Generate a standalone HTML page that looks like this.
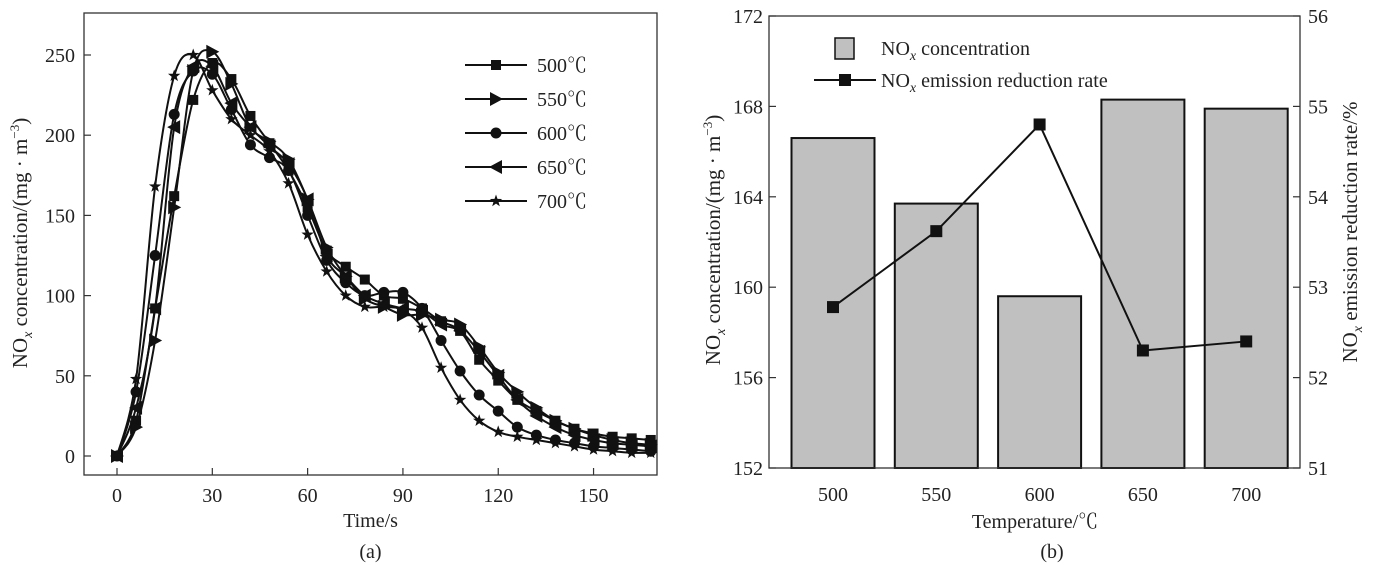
<!DOCTYPE html>
<html><head><meta charset="utf-8"><style>
html,body{margin:0;padding:0;background:#fff;}
svg{display:block;font-family:"Liberation Serif","Noto Serif CJK SC",serif;}
</style></head><body>
<svg id="fig" width="1379" height="565" viewBox="0 0 1379 565" xmlns="http://www.w3.org/2000/svg">
<g id="chartA"></g>
<g id="chartB"></g>
</svg>
<script>
// ---- Chart (a) data ----
const timesA = [0,6,12,18,24,30,36,42,48,54,60,66,72,78,84,90,96,102,108,114,120,126,132,138,144,150,156,162,168];
const seriesNames = ["500℃","550℃","600℃","650℃","700℃"];
const seriesMarkers = ["square","tri-right","circle","tri-left","star"];
const s500 = [0,22,92,162,222,245,235,212,195,178,155,128,118,110,100,98,92,84,78,60,47,35,28,22,17,14,12,11,10];
const s550 = [0,18,72,155,240,252,232,205,196,185,160,130,112,98,93,88,88,85,82,68,52,40,30,22,17,13,10,8,7];
const s600 = [0,40,125,213,240,238,216,194,186,178,150,122,108,100,102,102,92,72,53,38,28,18,13,10,8,6,5,4,3];
const s650 = [0,30,92,205,243,243,220,205,193,182,160,125,112,100,95,92,90,82,78,65,50,35,25,18,13,10,8,7,6];
const s700 = [0,48,168,237,250,228,210,200,190,170,138,115,100,93,93,91,80,55,35,22,15,12,10,8,6,4,3,2,2];
const yTicksA = [0,50,100,150,200,250];
const xTicksA = [0,30,60,90,120,150];
// ---- Chart (b) data ----
const categoriesB = ["500","550","600","650","700"];
const concB = [166.6,163.7,159.6,168.3,167.9];
const rateB = [52.78,53.62,54.80,52.30,52.40];
const yTicksBL = [152,156,160,164,168,172];
const yTicksBR = [51,52,53,54,55,56];

const NS="http://www.w3.org/2000/svg";
const FS=20;
function el(parent,tag,attrs,text){const e=document.createElementNS(NS,tag);for(const k in attrs)e.setAttribute(k,attrs[k]);if(text!==undefined)e.textContent=text;parent.appendChild(e);return e;}

// ===== Chart A =====
const A=document.getElementById('chartA');
const aL=84,aR=657,aT=13,aB=475;
const xA=t=>117+t*3.177;
const yA=v=>456-v*1.604;
function marker(g,type,x,y){
  let m;
  if(type==="square") m=el(g,'rect',{x:x-5,y:y-5,width:10,height:10,fill:'#111'});
  else if(type==="circle") m=el(g,'circle',{cx:x,cy:y,r:5.5,fill:'#111'});
  else if(type==="tri-right") m=el(g,'polygon',{points:`${x-6},${y-7} ${x+7},${y} ${x-6},${y+7}`,fill:'#111'});
  else if(type==="tri-left") m=el(g,'polygon',{points:`${x+6},${y-7} ${x-7},${y} ${x+6},${y+7}`,fill:'#111'});
  else {let p=[];for(let i=0;i<10;i++){const r=i%2?2.6:6.5;const a=-Math.PI/2+i*Math.PI/5;p.push((x+r*Math.cos(a)).toFixed(1)+','+(y+r*Math.sin(a)).toFixed(1));}m=el(g,'polygon',{points:p.join(' '),fill:'#111'});}
  return m;
}
function smoothPath(pts){
  let d=`M${pts[0][0]},${pts[0][1]}`;
  for(let i=0;i<pts.length-1;i++){
    const p0=pts[i-1]||pts[i],p1=pts[i],p2=pts[i+1],p3=pts[i+2]||p2;
    const c1=[p1[0]+(p2[0]-p0[0])/6,p1[1]+(p2[1]-p0[1])/6];
    const c2=[p2[0]-(p3[0]-p1[0])/6,p2[1]-(p3[1]-p1[1])/6];
    d+=` C${c1[0].toFixed(1)},${c1[1].toFixed(1)} ${c2[0].toFixed(1)},${c2[1].toFixed(1)} ${p2[0].toFixed(1)},${p2[1].toFixed(1)}`;
  }
  return d;
}
const frameA=el(A,'rect',{x:aL,y:aT,width:aR-aL,height:aB-aT,fill:'none',stroke:'#333','stroke-width':1.3});


yTicksA.forEach(v=>{
  el(A,'line',{x1:aL,x2:aL+7,y1:yA(v),y2:yA(v),stroke:'#333','stroke-width':1.2});
  const t=el(A,'text',{x:aL-9,y:yA(v)+7,'text-anchor':'end','font-size':FS,fill:'#222'},v);
  
  
});
xTicksA.forEach(v=>{
  el(A,'line',{x1:xA(v),x2:xA(v),y1:aB,y2:aB-7,stroke:'#333','stroke-width':1.2});
  const t=el(A,'text',{x:xA(v),y:aB+27,'text-anchor':'middle','font-size':FS,fill:'#222'},v);
  
  
});
const xtA=el(A,'text',{x:(aL+aR)/2,y:527,'text-anchor':'middle','font-size':FS,fill:'#222'},'Time/s');


const capA=el(A,'text',{x:(aL+aR)/2,y:558,'text-anchor':'middle','font-size':FS,fill:'#222'},'(a)');


const ytA=el(A,'text',{transform:'translate(27,243) rotate(-90)','text-anchor':'middle','font-size':21,fill:'#222'});


ytA.innerHTML='NO<tspan font-size="14" font-style="italic" dy="5">x</tspan><tspan dy="-5"> concentration/(mg · m</tspan><tspan font-size="13" dy="-8">−3</tspan><tspan dy="8">)</tspan>';
const allSeries=[s500,s550,s600,s650,s700];
allSeries.forEach((s,i)=>{
  const g=el(A,'g',{});
  
  
  const pts=s.map((v,j)=>[xA(timesA[j]),yA(v)]);
  const p=el(g,'path',{d:smoothPath(pts),fill:'none',stroke:'#111','stroke-width':2});
  
  
  pts.forEach(q=>{const m=marker(g,seriesMarkers[i],q[0],q[1]);
    
    });
});
// legend A
seriesNames.forEach((n,i)=>{
  const y=65+i*34;
  const g=el(A,'g',{});
  
  
  el(g,'line',{x1:465,x2:527,y1:y,y2:y,stroke:'#111','stroke-width':2});
  marker(g,seriesMarkers[i],496,y);
  el(g,'text',{x:537,y:y+7,'font-size':FS,fill:'#222'},n);
});

// ===== Chart B =====
const B=document.getElementById('chartB');
const bL=769,bR=1300,bT=16,bB=468;
const xB=i=>833+i*103.3;
const yBL=v=>bB-(v-152)*(bB-bT)/20;
const yBR=v=>bB-(v-51)*(bB-bT)/5;
concB.forEach((v,i)=>{
  const r=el(B,'rect',{x:xB(i)-41.5,y:yBL(v),width:83,height:bB-yBL(v),fill:'#c0c0c0',stroke:'#111','stroke-width':2});
  
  
});
const frameB=el(B,'rect',{x:bL,y:bT,width:bR-bL,height:bB-bT,fill:'none',stroke:'#333','stroke-width':1.3});


yTicksBL.forEach(v=>{
  el(B,'line',{x1:bL,x2:bL+7,y1:yBL(v),y2:yBL(v),stroke:'#333','stroke-width':1.2});
  const t=el(B,'text',{x:bL-6,y:yBL(v)+7,'text-anchor':'end','font-size':FS,fill:'#222'},v);
  
  
});
yTicksBR.forEach(v=>{
  el(B,'line',{x1:bR,x2:bR-7,y1:yBR(v),y2:yBR(v),stroke:'#333','stroke-width':1.2});
  const t=el(B,'text',{x:bR+8,y:yBR(v)+7,'font-size':FS,fill:'#222'},v);
  
  
});
categoriesB.forEach((c,i)=>{
  const t=el(B,'text',{x:xB(i),y:501,'text-anchor':'middle','font-size':FS,fill:'#222'},c);
  
  
});
const xtB=el(B,'text',{x:1035,y:528,'text-anchor':'middle','font-size':FS,fill:'#222'},'Temperature/℃');


const capB=el(B,'text',{x:1052,y:558,'text-anchor':'middle','font-size':FS,fill:'#222'},'(b)');


const ytBL=el(B,'text',{transform:'translate(720,240) rotate(-90)','text-anchor':'middle','font-size':21,fill:'#222'});


ytBL.innerHTML='NO<tspan font-size="14" font-style="italic" dy="5">x</tspan><tspan dy="-5"> concentration/(mg · m</tspan><tspan font-size="13" dy="-8">−3</tspan><tspan dy="8">)</tspan>';
const ytBR=el(B,'text',{transform:'translate(1357,232) rotate(-90)','text-anchor':'middle','font-size':21,fill:'#222'});


ytBR.innerHTML='NO<tspan font-size="14" font-style="italic" dy="5">x</tspan><tspan dy="-5"> emission reduction rate/%</tspan>';
const ptsB=rateB.map((v,i)=>[xB(i),yBR(v)]);
const lineB=el(B,'polyline',{points:ptsB.map(p=>p.join(',')).join(' '),fill:'none',stroke:'#111','stroke-width':2});


ptsB.forEach((p,i)=>{
  const m=el(B,'rect',{x:p[0]-6,y:p[1]-6,width:12,height:12,fill:'#111'});
  
  
});
// legend B
const lg1=el(B,'g',{});


el(lg1,'rect',{x:835,y:38,width:19,height:21,fill:'#c0c0c0',stroke:'#111','stroke-width':1.5});
const l1=el(lg1,'text',{x:881,y:55,'font-size':FS,fill:'#222'});
l1.innerHTML='NO<tspan font-size="14" font-style="italic" dy="5">x</tspan><tspan dy="-5"> concentration</tspan>';
const lg2=el(B,'g',{});


el(lg2,'line',{x1:814,x2:876,y1:80,y2:80,stroke:'#111','stroke-width':2});
el(lg2,'rect',{x:839,y:74,width:12,height:12,fill:'#111'});
const l2=el(lg2,'text',{x:881,y:87,'font-size':FS,fill:'#222'});
l2.innerHTML='NO<tspan font-size="14" font-style="italic" dy="5">x</tspan><tspan dy="-5"> emission reduction rate</tspan>';
</script>
</body></html>
